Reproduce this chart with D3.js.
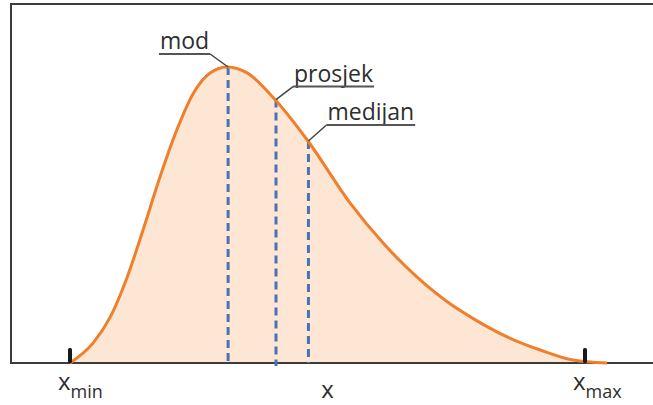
<!DOCTYPE html>
<html>
<head>
<meta charset="utf-8">
<script src="https://cdn.jsdelivr.net/npm/d3@7"></script>
<style>
  body { margin: 0; background: #fff; }
  svg { display: block; font-family: "Open Sans", sans-serif; }
</style>
</head>
<body>
<div id="chart"></div>
<script>
// traced density curve (x in units between x_min = 0 and x_max = 10, y relative to the peak)
const curveX = [0, 0.45, 0.78, 1.11, 1.42, 1.75, 2.08, 2.39, 2.72, 3.05, 3.44, 3.98, 4.62, 5.44, 6.08, 6.74, 7.38, 7.83, 8.49, 9.13, 9.77, 10.43];
const curveY = [0, 0.068, 0.155, 0.29, 0.45, 0.63, 0.79, 0.91, 0.98, 1.0, 0.98, 0.89, 0.75, 0.54, 0.405, 0.29, 0.20, 0.15, 0.088, 0.044, 0.01, 0];

// mod / prosjek / medijan
const statNames = ["mod", "prosjek", "medijan"];
const statX = [3.07, 4.0, 4.63];
const statY = [1.0, 0.89, 0.75];

// labels under the axis
const axisX = [0, 5, 10];
const axisSub = ["min", "", "max"];

const width = 653, height = 405;

const svg = d3.select("#chart").append("svg")
  .attr("width", width)
  .attr("height", height);

const x = d3.scaleLinear().domain([0, 10]).range([70, 585]);
const y = d3.scaleLinear().domain([0, 1]).range([363, 67]);

const curve = curveX.map((d, i) => ({ x: d, y: curveY[i] }));

// filled area under the curve
svg.append("path")
  .datum(curve)
  .attr("fill", "#fde6d3")
  .attr("d", d3.area().x(d => x(d.x)).y0(y(0)).y1(d => y(d.y)).curve(d3.curveMonotoneX));

// frame: left, top and bottom
svg.append("path")
  .attr("d", `M${width},4 H11 V${y(0)} H${width}`)
  .attr("fill", "none")
  .attr("stroke", "#3c3c3c")
  .attr("stroke-width", 2);

// dashed lines for mod, prosjek, medijan
svg.selectAll(".stat")
  .data(statX)
  .enter().append("line")
  .attr("class", "stat")
  .attr("x1", d => x(d))
  .attr("x2", d => x(d))
  .attr("y1", (d, i) => y(statY[i]))
  .attr("y2", (d, i) => i === 1 ? y(0) + 3 : y(0))
  .attr("stroke", "#4a72b4")
  .attr("stroke-width", 3)
  .attr("stroke-dasharray", "8,5");

// the curve itself
svg.append("path")
  .datum(curve)
  .attr("fill", "none")
  .attr("stroke", "#f07f2c")
  .attr("stroke-width", 3)
  .attr("d", d3.line().x(d => x(d.x)).y(d => y(d.y)).curve(d3.curveMonotoneX));

// little tick marks at x_min and x_max
svg.selectAll(".tick")
  .data([0, 10])
  .enter().append("rect")
  .attr("class", "tick")
  .attr("x", d => x(d) - 2)
  .attr("y", y(0) - 15)
  .attr("width", 4)
  .attr("height", 15)
  .attr("rx", 1.5)
  .attr("fill", "#1a1a1a");

// labels with underline and leader line
const leaders = [[-18, -13], [17, -13], [18, -16]];
statNames.forEach((name, i) => {
  const px = x(statX[i]), py = y(statY[i]);
  const lx = px + leaders[i][0], ly = py + leaders[i][1];
  const g = svg.append("g");
  const t = g.append("text")
    .attr("y", ly - 5)
    .attr("font-size", 23)
    .attr("fill", "#2e2e2e")
    .text(name);
  const w = t.node().getComputedTextLength() + 2;
  const x0 = i === 0 ? lx - w : lx;
  t.attr("x", x0 + 1);
  g.append("line")
    .attr("x1", x0).attr("x2", x0 + w)
    .attr("y1", ly).attr("y2", ly)
    .attr("stroke", "#555").attr("stroke-width", 2);
  g.append("line")
    .attr("x1", lx).attr("y1", ly)
    .attr("x2", px).attr("y2", py)
    .attr("stroke", "#444").attr("stroke-width", 1.5);
});

// x_min, x, x_max
const baselines = [390, 398, 390];
axisX.forEach((d, i) => {
  const t = svg.append("text")
    .attr("x", axisSub[i] ? x(d) - 12 : x(d))
    .attr("y", baselines[i])
    .attr("text-anchor", axisSub[i] ? "start" : "middle")
    .attr("font-size", 24)
    .attr("fill", "#2e2e2e");
  t.append("tspan").text("x");
  if (axisSub[i]) {
    t.append("tspan")
      .attr("dy", 8)
      .attr("font-size", 18)
      .text(axisSub[i]);
  }
});
</script>
</body>
</html>
